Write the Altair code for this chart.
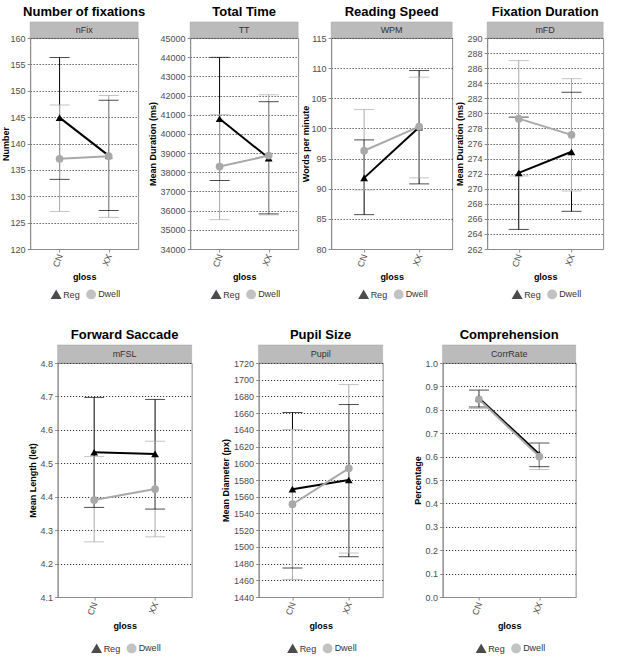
import altair as alt
import pandas as pd

FONT = "Liberation Sans"

# ---------------- data ----------------
measures = ["nFix", "TT", "WPM", "mFD", "mFSL", "Pupil", "CorrRate"]
titles = ["Number of fixations", "Total Time", "Reading Speed", "Fixation Duration",
          "Forward Saccade", "Pupil Size", "Comprehension"]
ytitles = ["Number", "Mean Duration (ms)", "Words per minute", "Mean Duration (ms)",
           "Mean Length (let)", "Mean Diameter (px)", "Percentage"]
gloss = ["CN", "XX"]
groups = ["Reg", "Dwell"]

# values per measure: [CN, XX]
reg_mean = {"nFix": [144.9, 137.7], "TT": [40790, 38740], "WPM": [91.8, 100.2],
            "mFD": [272.1, 274.9], "mFSL": [4.533, 4.528], "Pupil": [1569, 1580],
            "CorrRate": [0.850, 0.610]}
reg_lo = {"nFix": [133.2, 127.3], "TT": [37570, 35830], "WPM": [85.7, 90.8],
          "mFD": [264.6, 267.0], "mFSL": [4.368, 4.363], "Pupil": [1474.7, 1488.2],
          "CorrRate": [0.812, 0.557]}
reg_hi = {"nFix": [156.3, 148.2], "TT": [43990, 41680], "WPM": [98.1, 109.6],
          "mFD": [279.5, 282.8], "mFSL": [4.697, 4.691], "Pupil": [1660.8, 1670.3],
          "CorrRate": [0.884, 0.658]}
dwell_mean = {"nFix": [137.1, 137.6], "TT": [38300, 38870], "WPM": [96.3, 100.3],
              "mFD": [279.3, 277.15], "mFSL": [4.390, 4.423], "Pupil": [1551, 1594],
              "CorrRate": [0.845, 0.600]}
dwell_lo = {"nFix": [127.1, 126.0], "TT": [35530, 35780], "WPM": [89.8, 91.8],
            "mFD": [271.7, 269.7], "mFSL": [4.265, 4.280], "Pupil": [1460.8, 1492.6],
            "CorrRate": [0.806, 0.545]}
dwell_hi = {"nFix": [147.3, 149.1], "TT": [41000, 42040], "WPM": [103.15, 108.5],
            "mFD": [287.0, 284.6], "mFSL": [4.520, 4.566], "Pupil": [1640.5, 1694.2],
            "CorrRate": [0.885, 0.656]}

ydomains = [[120, 160], [34000, 45000], [80, 115], [262, 290], [4.1, 4.8], [1440, 1720], [0, 1]]
yticks = [
    [120, 125, 130, 135, 140, 145, 150, 155, 160],
    [34000, 35000, 36000, 37000, 38000, 39000, 40000, 41000, 42000, 43000, 44000, 45000],
    [80, 85, 90, 95, 100, 105, 110, 115],
    [262, 264, 266, 268, 270, 272, 274, 276, 278, 280, 282, 284, 286, 288, 290],
    [4.1, 4.2, 4.3, 4.4, 4.5, 4.6, 4.7, 4.8],
    [1440, 1460, 1480, 1500, 1520, 1540, 1560, 1580, 1600, 1620, 1640, 1660, 1680, 1700, 1720],
    [0.0, 0.1, 0.2, 0.3, 0.4, 0.5, 0.6, 0.7, 0.8, 0.9, 1.0],
]
yformats = ["d", "d", "d", "d", ".1f", "d", ".1f"]


def make_df(m):
    rows = []
    for g, mean, lo, hi in (("Reg", reg_mean, reg_lo, reg_hi),
                            ("Dwell", dwell_mean, dwell_lo, dwell_hi)):
        for j, gl in enumerate(gloss):
            rows.append({"gloss": gl, "grp": g, "mean": mean[m][j],
                         "lo": lo[m][j], "hi": hi[m][j]})
    return pd.DataFrame(rows)


def panel(i, w, h, strip_h=17, title_pad=3, leg_y=40, xt_pad=5):
    m = measures[i]
    df = make_df(m)
    xaxis = alt.Axis(title="gloss", labelAngle=290, titlePadding=xt_pad)
    x = alt.X("gloss:N", scale=alt.Scale(type="point", domain=gloss, padding=0.6), axis=xaxis)
    yscale = alt.Scale(domain=ydomains[i], nice=False, zero=False)
    yaxis = alt.Axis(title=ytitles[i], values=yticks[i], format=yformats[i],
                     titlePadding=title_pad)
    cscale = alt.Scale(domain=groups, range=["#000000", "#A9A9A9"])
    sscale = alt.Scale(domain=groups, range=["triangle-up", "circle"])
    leg = alt.Legend(orient="none", legendX=w / 2 - 33, legendY=h + leg_y,
                     direction="horizontal", title=None, labelFontSize=9,
                     symbolSize=70, columnPadding=3, labelOffset=2,
                     labelColor="#333333", labelFont=FONT)
    color = alt.Color("grp:N", scale=cscale, legend=leg)
    base = alt.Chart(df)

    def Y(f):
        return alt.Y(f, type="quantitative", scale=yscale, axis=yaxis)

    err = base.mark_rule(strokeWidth=1).encode(x=x, y=Y("lo"), y2="hi:Q", color=color)
    cap_lo = base.mark_tick(size=20, thickness=1).encode(x=x, y=Y("lo"), color=color)
    cap_hi = base.mark_tick(size=20, thickness=1).encode(x=x, y=Y("hi"), color=color)
    line = base.mark_line(strokeWidth=2).encode(x=x, y=Y("mean"), color=color)
    pts = base.mark_point(filled=True, size=60, opacity=1).encode(
        x=x, y=Y("mean"),
        color=color,
        shape=alt.Shape("grp:N", scale=sscale, legend=leg),
    )
    sdata = alt.Data(values=[{"s": m}])
    strip_rect = alt.Chart(sdata).mark_rect(fill="#BBBBBB", stroke="#A0A0A0", strokeWidth=0.5).encode(
        x=alt.value(0), x2=alt.value(w), y=alt.value(-strip_h), y2=alt.value(0))
    strip_text = alt.Chart(sdata).mark_text(fontSize=9, color="#333333", font=FONT,
                                            baseline="middle").encode(
        x=alt.value(w / 2), y=alt.value(-strip_h / 2), text="s:N")
    return alt.layer(strip_rect, strip_text, err, cap_lo, cap_hi, line, pts).properties(
        width=w, height=h,
        title=alt.TitleParams(text=titles[i], frame="group", anchor="middle",
                              fontSize=13, font=FONT, fontWeight="bold",
                              color="#000000", offset=3),
    )


res = dict(x="independent", y="independent", color="independent", shape="independent")
lres = dict(color="independent", shape="independent")

top = alt.hconcat(
    panel(0, 108, 211, strip_h=16, title_pad=0),
    panel(1, 108, 211, strip_h=16),
    panel(2, 121, 211, strip_h=16, title_pad=1),
    panel(3, 116, 211, strip_h=16),
    spacing=1,
).resolve_scale(**res).resolve_legend(**lres)

bottom = alt.hconcat(
    panel(4, 134, 234, strip_h=18, leg_y=46, xt_pad=6),
    panel(5, 124, 234, strip_h=18, leg_y=46, xt_pad=6),
    panel(6, 133, 234, strip_h=18, leg_y=46, xt_pad=6),
    spacing=28,
).resolve_scale(**res).resolve_legend(**lres)

chart = alt.vconcat(top, bottom, spacing=25, center=True).resolve_scale(**res).resolve_legend(
    **lres
).properties(
    padding={"left": 0, "top": 5, "right": 2, "bottom": 2}, background="white"
).configure_view(
    stroke="#8C8C8C", strokeWidth=1
).configure_axis(
    labelFont=FONT, titleFont=FONT, labelFontSize=9, titleFontSize=9,
    labelColor="#4D4D4D", titleColor="#000000", titleFontWeight="bold",
    domainColor="#8C8C8C", tickColor="#8C8C8C", tickSize=3, labelPadding=2,
).configure_axisY(
    gridColor="#000000", gridDash=[1, 2], gridWidth=1, gridOpacity=0.9,
).configure_axisX(
    grid=False,
)

chart.save("out.html", embed_options={"renderer": "svg", "actions": False})
